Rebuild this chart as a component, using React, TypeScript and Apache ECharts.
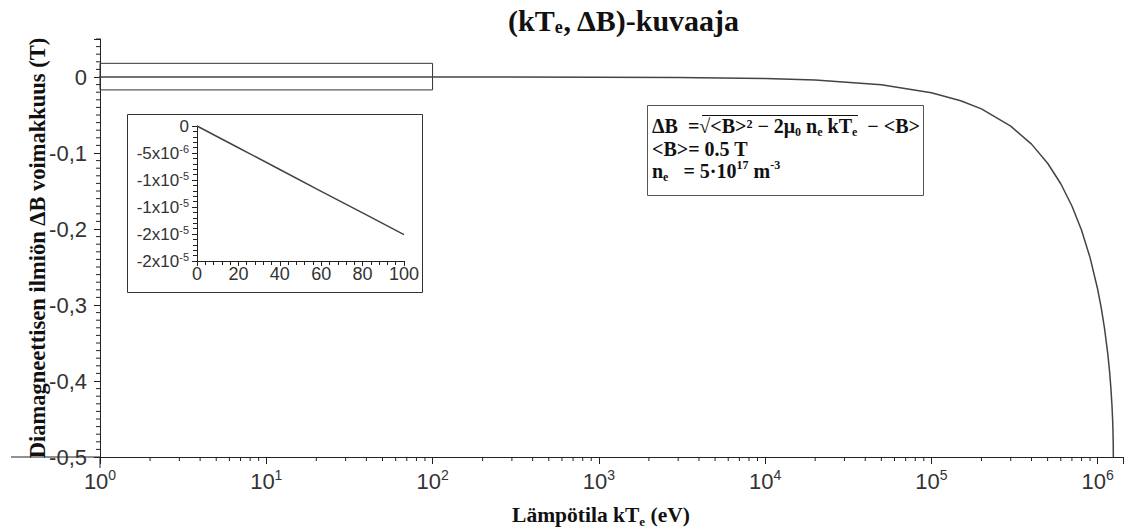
import React, { useEffect, useRef } from "react";
import * as echarts from "echarts";

// Main curve: kT_e (eV) vs ΔB (T)
const kTe = [0.9, 10, 100, 1000, 3000, 10000, 20000, 50000, 100000, 150000, 200000, 300000, 400000, 500000, 600000, 700000, 800000, 900000, 1000000, 1050000, 1100000, 1150000, 1180000, 1200000, 1220000, 1230000, 1235000, 1240000, 1242000];
const deltaB = [0, -0.000002, -0.00002, -0.0002, -0.0006, -0.002, -0.004, -0.0102, -0.0206, -0.0312, -0.042, -0.0646, -0.0883, -0.1135, -0.1405, -0.1697, -0.2017, -0.2377, -0.2793, -0.3034, -0.331, -0.364, -0.3884, -0.4084, -0.4336, -0.451, -0.4627, -0.4803, -0.5];

// Inset: 0..100 eV
const insetKTe = [0, 20, 40, 60, 80, 100];
const insetDeltaB = [0, -0.00000403, -0.00000805, -0.0000121, -0.0000161, -0.0000201];

// Axis ranges / ticks
const X_MIN = 1;
const X_MAX = 1.42e6;
const Y_MIN = -0.5;
const Y_MAX = 0.05;
const xDecades = [0, 1, 2, 3, 4, 5];
const xMinorMultipliers = [2, 3, 4, 5, 6, 7, 8, 9];
const yMinorStep = 0.01;

const SERIF = "'Liberation Serif', 'DejaVu Serif', serif";
const SANS = "'Liberation Sans', Arial, sans-serif";

function buildXMinor(): number[] {
  const out: number[] = [];
  xDecades.forEach((d) => xMinorMultipliers.forEach((m) => {
    const v = m * Math.pow(10, d);
    if (v <= X_MAX) out.push(v);
  }));
  return out;
}
function buildYMinor(): number[] {
  const out: number[] = [];
  const n = Math.round((Y_MAX - Y_MIN) / yMinorStep);
  for (let i = 0; i <= n; i++) {
    const v = Y_MIN + i * yMinorStep;
    if (i % 10 !== 0) out.push(Math.round(v * 1000) / 1000);
  }
  return out;
}

export default function App() {
  const ref = useRef<HTMLDivElement>(null);
  useEffect(() => {
    if (!ref.current) return;
    const chart = echarts.init(ref.current, undefined, { renderer: "svg" });
    const xMinor = buildXMinor();
    const yMinor = buildYMinor();
    const axisColor = "#222";
    const annoSize = 20;

    const option: any = {
      animation: false,
      backgroundColor: "#fff",
      title: {
        text: "{a|(kT}{s|e}{a|, ΔB)-kuvaaja}",
        left: 619,
        top: -1,
        textAlign: "center",
        textStyle: {
          rich: {
            a: { fontFamily: SERIF, fontWeight: "bold", fontSize: 30, color: "#111", lineHeight: 32 },
            s: { fontFamily: SERIF, fontWeight: "bold", fontSize: 18, color: "#111", lineHeight: 18, verticalAlign: "bottom" },
          },
        },
      },
      grid: [
        { left: 100, right: 0, top: 39, bottom: 73 },
        { left: 197, top: 126, right: 722, bottom: 269 },
      ],
      xAxis: [
        {
          type: "log",
          gridIndex: 0,
          min: X_MIN,
          max: X_MAX,
          logBase: 10,
          axisLine: { onZero: false, lineStyle: { color: axisColor, width: 1 } },
          axisTick: { show: true, length: 7, lineStyle: { color: axisColor } },
          minorTick: { show: false },
          splitLine: { show: false },
          axisLabel: {
            margin: 11,
            formatter: (v: number) => {
              const l = Math.log10(v);
              const r = Math.round(l);
              if (Math.abs(l - r) > 1e-6) return "";
              return `{b|10}{s|${r}}`;
            },
            rich: {
              b: { fontFamily: SANS, fontSize: 22, color: "#333", lineHeight: 26 },
              s: { fontFamily: SANS, fontSize: 14, color: "#333", lineHeight: 15, verticalAlign: "top" },
            },
          },
        },
        {
          type: "value",
          gridIndex: 1,
          min: 0,
          max: 100,
          interval: 20,
          axisLine: { onZero: false, lineStyle: { color: axisColor } },
          axisTick: { length: 5, lineStyle: { color: axisColor } },
          minorTick: { show: true, splitNumber: 5, length: 4, lineStyle: { color: axisColor } },
          splitLine: { show: false },
          axisLabel: { margin: 4, fontFamily: SANS, fontSize: 18, color: "#333" },
        },
      ],
      yAxis: [
        {
          type: "value",
          gridIndex: 0,
          min: Y_MIN,
          max: Y_MAX,
          interval: 0.1,
          axisLine: { onZero: false, lineStyle: { color: axisColor } },
          axisTick: { length: 6, lineStyle: { color: axisColor } },
          splitLine: { show: false },
          axisLabel: {
            margin: 13,
            fontFamily: SANS,
            fontSize: 22,
            color: "#333",
            formatter: (v: number) => {
              if (Math.abs(v) < 1e-9) return "0";
              const r = Math.round(v * 10);
              if (Math.abs(v * 10 - r) > 1e-6) return "";
              return (r / 10).toFixed(1).replace(".", ",");
            },
          },
          name: "Diamagneettisen ilmiön ΔB voimakkuus (T)",
          nameLocation: "middle",
          nameRotate: 90,
          nameGap: 51,
          nameMoveOverlap: false,
          nameTextStyle: { fontFamily: SERIF, fontWeight: "bold", fontSize: 22.5, color: "#111" },
        },
        {
          type: "value",
          gridIndex: 1,
          min: -0.000025,
          max: 0,
          interval: 0.000005,
          axisLine: { onZero: false, lineStyle: { color: axisColor } },
          axisTick: { length: 5, lineStyle: { color: axisColor } },
          minorTick: { show: true, splitNumber: 5, length: 4, lineStyle: { color: axisColor } },
          splitLine: { show: false },
          axisLabel: {
            margin: 8,
            formatter: (v: number) => {
              if (Math.abs(v) < 1e-12) return "{b|0}";
              const e = Math.floor(Math.log10(Math.abs(v)) + 1e-9);
              const m = Math.trunc(Math.round((v / Math.pow(10, e)) * 1000) / 1000);
              return `{b|${m}x10}{s|${e}}`;
            },
            rich: {
              b: { fontFamily: SANS, fontSize: 17, color: "#333", lineHeight: 20 },
              s: { fontFamily: SANS, fontSize: 11, color: "#333", lineHeight: 12, verticalAlign: "top" },
            },
          },
        },
      ],
      series: [
        {
          type: "line",
          xAxisIndex: 0,
          yAxisIndex: 0,
          data: kTe.map((x, i) => [x, deltaB[i]]),
          symbol: "none",
          clip: false,
          lineStyle: { color: "#444", width: 1.5 },
          markArea: {
            silent: true,
            itemStyle: { color: "rgba(0,0,0,0)", borderColor: "#333", borderWidth: 1 },
            data: [[{ coord: [0.9, 0.018] }, { coord: [100, -0.017] }]],
          },
        },
        {
          type: "custom",
          xAxisIndex: 0,
          yAxisIndex: 0,
          data: xMinor.map((v) => [v, Y_MIN]),
          renderItem: (_p: any, api: any) => {
            const p = api.coord([api.value(0), api.value(1)]);
            return { type: "line", shape: { x1: p[0], y1: p[1], x2: p[0], y2: p[1] + 4 }, style: { stroke: axisColor, lineWidth: 1 } };
          },
          silent: true,
        },
        {
          type: "custom",
          xAxisIndex: 0,
          yAxisIndex: 0,
          data: yMinor.map((v) => [X_MIN, v]),
          renderItem: (_p: any, api: any) => {
            const p = api.coord([api.value(0), api.value(1)]);
            return { type: "line", shape: { x1: p[0] - 4, y1: p[1], x2: p[0], y2: p[1] }, style: { stroke: axisColor, lineWidth: 1 } };
          },
          silent: true,
        },
        {
          type: "line",
          xAxisIndex: 1,
          yAxisIndex: 1,
          data: insetKTe.map((x, i) => [x, insetDeltaB[i]]),
          symbol: "none",
          lineStyle: { color: "#444", width: 1.5 },
        },
      ],
      graphic: [
        // axis line extensions (Maple-style crossing axes)
        { type: "line", shape: { x1: 11, y1: 457, x2: 100, y2: 457 }, style: { stroke: axisColor, lineWidth: 1 }, silent: true },
        { type: "line", shape: { x1: 100, y1: 457, x2: 100, y2: 468 }, style: { stroke: axisColor, lineWidth: 1 }, silent: true },
        // inset frame
        { type: "rect", shape: { x: 127.5, y: 114.5, width: 295, height: 178 }, style: { fill: "none", stroke: "#333", lineWidth: 1 }, silent: true },
        // x-axis name
        {
          type: "text",
          x: 601,
          y: 515,
          style: {
            text: "{a|Lämpötila kT}{s|e}{a| (eV)}",
            align: "center",
            verticalAlign: "middle",
            rich: {
              a: { fontFamily: SERIF, fontWeight: "bold", fontSize: 21.5, fill: "#111", lineHeight: 26 },
              s: { fontFamily: SERIF, fontWeight: "bold", fontSize: 13, fill: "#111", lineHeight: 13, verticalAlign: "bottom" },
            },
          },
          silent: true,
        },
        // annotation box
        { type: "rect", shape: { x: 647.5, y: 105.5, width: 276, height: 90 }, style: { fill: "#fff", stroke: "#555", lineWidth: 1 }, silent: true },
        {
          type: "text",
          x: 652,
          y: 126,
          style: {
            text: "{a|ΔB  =√<B>² − 2μ}{s|0}{a| n}{s|e}{a| kT}{s|e}{a|  − <B>}",
            verticalAlign: "middle",
            rich: {
              a: { fontFamily: SERIF, fontWeight: "bold", fontSize: annoSize, fill: "#111", lineHeight: 24 },
              s: { fontFamily: SERIF, fontWeight: "bold", fontSize: 12, fill: "#111", lineHeight: 12, verticalAlign: "bottom" },
            },
          },
          silent: true,
        },
        { type: "line", shape: { x1: 702, y1: 115.5, x2: 858, y2: 115.5 }, style: { stroke: "#111", lineWidth: 1 }, silent: true },
        {
          type: "text",
          x: 652,
          y: 149,
          style: {
            text: "<B>= 0.5 T",
            verticalAlign: "middle",
            fontFamily: SERIF,
            fontWeight: "bold",
            fontSize: annoSize,
            fill: "#111",
          },
          silent: true,
        },
        {
          type: "text",
          x: 652,
          y: 171,
          style: {
            text: "{a|n}{s|e}{a|   = 5·10}{p|17}{a| m}{p|-3}",
            verticalAlign: "middle",
            rich: {
              a: { fontFamily: SERIF, fontWeight: "bold", fontSize: annoSize, fill: "#111", lineHeight: 24 },
              s: { fontFamily: SERIF, fontWeight: "bold", fontSize: 12, fill: "#111", lineHeight: 12, verticalAlign: "bottom" },
              p: { fontFamily: SERIF, fontWeight: "bold", fontSize: 12, fill: "#111", lineHeight: 12, verticalAlign: "top" },
            },
          },
          silent: true,
        },
      ],
    };
    chart.setOption(option);
    return () => chart.dispose();
  }, []);
  return (
    <div
      ref={ref}
      style={{ position: "fixed", left: 0, top: 0, width: 1126, height: 530, background: "#fff" }}
    />
  );
}
